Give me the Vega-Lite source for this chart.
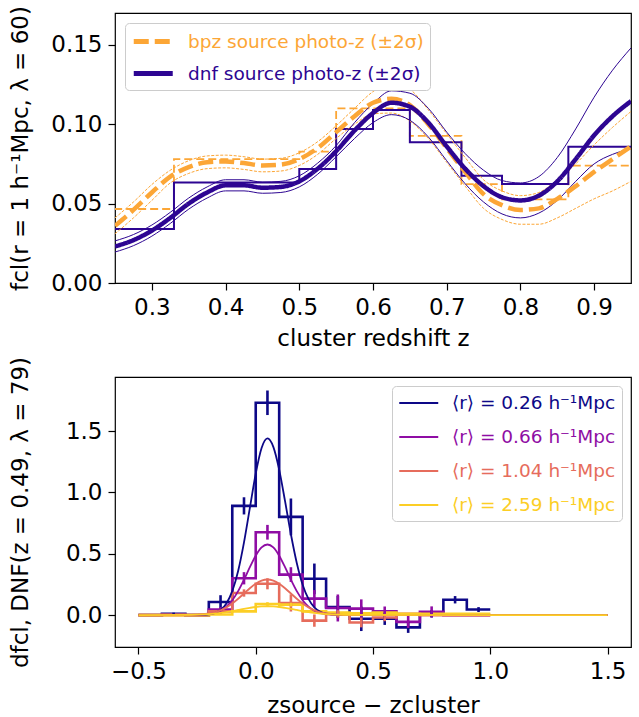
{
  "$schema": "https://vega.github.io/schema/vega-lite/v6.json",
  "background": "white",
  "padding": {"left": 8, "top": 5, "right": 6, "bottom": 5},
  "config": {
    "font": "DejaVu Sans",
    "view": {"stroke": "black", "strokeWidth": 1.2},
    "axis": {"grid": false, "domain": false, "tickColor": "black", "tickWidth": 1.2, "tickSize": 7, "labelFont": "DejaVu Sans", "labelFontSize": 23, "labelColor": "black", "labelPadding": 6, "labelOverlap": false, "labelFlush": false, "labelBound": false, "titleFont": "DejaVu Sans", "titleFontSize": 23, "titleFontWeight": "normal", "titleColor": "black"},
    "legend": {"title": null, "symbolType": "M-1,0H3", "symbolSize": 380, "labelFont": "DejaVu Sans", "labelFontSize": 18.5, "strokeColor": "#cccccc", "fillColor": "white", "cornerRadius": 4, "padding": 6, "labelLimit": 400, "labelOffset": 32}
  },
  "datasets": {
    "top_hist": [
      {"s": "bpz", "x": 0.2, "y": 0.0466}, {"s": "bpz", "x": 0.33, "y": 0.078}, {"s": "bpz", "x": 0.5, "y": 0.0827}, {"s": "bpz", "x": 0.55, "y": 0.110}, {"s": "bpz", "x": 0.6, "y": 0.110}, {"s": "bpz", "x": 0.65, "y": 0.0926}, {"s": "bpz", "x": 0.72, "y": 0.0623}, {"s": "bpz", "x": 0.775, "y": 0.0527}, {"s": "bpz", "x": 0.865, "y": 0.0739}, {"s": "bpz", "x": 1.0, "y": 0.0739},
      {"s": "dnf", "x": 0.2, "y": 0.034}, {"s": "dnf", "x": 0.33, "y": 0.0632}, {"s": "dnf", "x": 0.5, "y": 0.0718}, {"s": "dnf", "x": 0.55, "y": 0.097}, {"s": "dnf", "x": 0.6, "y": 0.109}, {"s": "dnf", "x": 0.65, "y": 0.0886}, {"s": "dnf", "x": 0.72, "y": 0.0676}, {"s": "dnf", "x": 0.775, "y": 0.0623}, {"s": "dnf", "x": 0.865, "y": 0.0858}, {"s": "dnf", "x": 1.0, "y": 0.0858}
    ],
    "top_curve": [
      {"s": "bpz source photo-z (±2σ)", "x": 0.25, "y": 0.036, "lo": 0.031, "hi": 0.041},
      {"s": "bpz source photo-z (±2σ)", "x": 0.275, "y": 0.046, "lo": 0.041, "hi": 0.051},
      {"s": "bpz source photo-z (±2σ)", "x": 0.3, "y": 0.057, "lo": 0.052, "hi": 0.062},
      {"s": "bpz source photo-z (±2σ)", "x": 0.325, "y": 0.067, "lo": 0.063, "hi": 0.071},
      {"s": "bpz source photo-z (±2σ)", "x": 0.35, "y": 0.073, "lo": 0.069, "hi": 0.077},
      {"s": "bpz source photo-z (±2σ)", "x": 0.375, "y": 0.076, "lo": 0.072, "hi": 0.080},
      {"s": "bpz source photo-z (±2σ)", "x": 0.4, "y": 0.0765, "lo": 0.0725, "hi": 0.0805},
      {"s": "bpz source photo-z (±2σ)", "x": 0.425, "y": 0.0755, "lo": 0.0715, "hi": 0.0795},
      {"s": "bpz source photo-z (±2σ)", "x": 0.45, "y": 0.074, "lo": 0.070, "hi": 0.078},
      {"s": "bpz source photo-z (±2σ)", "x": 0.475, "y": 0.0745, "lo": 0.0705, "hi": 0.0785},
      {"s": "bpz source photo-z (±2σ)", "x": 0.5, "y": 0.078, "lo": 0.074, "hi": 0.082},
      {"s": "bpz source photo-z (±2σ)", "x": 0.525, "y": 0.085, "lo": 0.081, "hi": 0.089},
      {"s": "bpz source photo-z (±2σ)", "x": 0.55, "y": 0.095, "lo": 0.091, "hi": 0.099},
      {"s": "bpz source photo-z (±2σ)", "x": 0.575, "y": 0.105, "lo": 0.100, "hi": 0.110},
      {"s": "bpz source photo-z (±2σ)", "x": 0.6, "y": 0.1135, "lo": 0.1065, "hi": 0.1205},
      {"s": "bpz source photo-z (±2σ)", "x": 0.625, "y": 0.116, "lo": 0.107, "hi": 0.126},
      {"s": "bpz source photo-z (±2σ)", "x": 0.65, "y": 0.112, "lo": 0.102, "hi": 0.122},
      {"s": "bpz source photo-z (±2σ)", "x": 0.675, "y": 0.100, "lo": 0.091, "hi": 0.109},
      {"s": "bpz source photo-z (±2σ)", "x": 0.7, "y": 0.085, "lo": 0.076, "hi": 0.094},
      {"s": "bpz source photo-z (±2σ)", "x": 0.725, "y": 0.070, "lo": 0.061, "hi": 0.079},
      {"s": "bpz source photo-z (±2σ)", "x": 0.75, "y": 0.056, "lo": 0.047, "hi": 0.065},
      {"s": "bpz source photo-z (±2σ)", "x": 0.775, "y": 0.049, "lo": 0.040, "hi": 0.058},
      {"s": "bpz source photo-z (±2σ)", "x": 0.8, "y": 0.046, "lo": 0.037, "hi": 0.055},
      {"s": "bpz source photo-z (±2σ)", "x": 0.825, "y": 0.047, "lo": 0.037, "hi": 0.057},
      {"s": "bpz source photo-z (±2σ)", "x": 0.85, "y": 0.053, "lo": 0.041, "hi": 0.065},
      {"s": "bpz source photo-z (±2σ)", "x": 0.875, "y": 0.061, "lo": 0.047, "hi": 0.075},
      {"s": "bpz source photo-z (±2σ)", "x": 0.9, "y": 0.070, "lo": 0.053, "hi": 0.087},
      {"s": "bpz source photo-z (±2σ)", "x": 0.925, "y": 0.078, "lo": 0.058, "hi": 0.098},
      {"s": "bpz source photo-z (±2σ)", "x": 0.95, "y": 0.086, "lo": 0.064, "hi": 0.108},
      {"s": "dnf source photo-z (±2σ)", "x": 0.25, "y": 0.023, "lo": 0.0195, "hi": 0.0265},
      {"s": "dnf source photo-z (±2σ)", "x": 0.275, "y": 0.027, "lo": 0.0235, "hi": 0.0305},
      {"s": "dnf source photo-z (±2σ)", "x": 0.3, "y": 0.033, "lo": 0.0295, "hi": 0.0365},
      {"s": "dnf source photo-z (±2σ)", "x": 0.325, "y": 0.041, "lo": 0.0375, "hi": 0.0445},
      {"s": "dnf source photo-z (±2σ)", "x": 0.35, "y": 0.050, "lo": 0.0465, "hi": 0.0535},
      {"s": "dnf source photo-z (±2σ)", "x": 0.375, "y": 0.057, "lo": 0.0535, "hi": 0.0605},
      {"s": "dnf source photo-z (±2σ)", "x": 0.4, "y": 0.0615, "lo": 0.058, "hi": 0.065},
      {"s": "dnf source photo-z (±2σ)", "x": 0.425, "y": 0.0615, "lo": 0.058, "hi": 0.065},
      {"s": "dnf source photo-z (±2σ)", "x": 0.45, "y": 0.060, "lo": 0.0565, "hi": 0.0635},
      {"s": "dnf source photo-z (±2σ)", "x": 0.475, "y": 0.0605, "lo": 0.057, "hi": 0.064},
      {"s": "dnf source photo-z (±2σ)", "x": 0.5, "y": 0.064, "lo": 0.0605, "hi": 0.0675},
      {"s": "dnf source photo-z (±2σ)", "x": 0.525, "y": 0.072, "lo": 0.0685, "hi": 0.0755},
      {"s": "dnf source photo-z (±2σ)", "x": 0.55, "y": 0.083, "lo": 0.0795, "hi": 0.0865},
      {"s": "dnf source photo-z (±2σ)", "x": 0.575, "y": 0.096, "lo": 0.091, "hi": 0.101},
      {"s": "dnf source photo-z (±2σ)", "x": 0.6, "y": 0.107, "lo": 0.101, "hi": 0.113},
      {"s": "dnf source photo-z (±2σ)", "x": 0.625, "y": 0.1135, "lo": 0.106, "hi": 0.121},
      {"s": "dnf source photo-z (±2σ)", "x": 0.65, "y": 0.111, "lo": 0.1025, "hi": 0.1195},
      {"s": "dnf source photo-z (±2σ)", "x": 0.675, "y": 0.101, "lo": 0.092, "hi": 0.110},
      {"s": "dnf source photo-z (±2σ)", "x": 0.7, "y": 0.086, "lo": 0.077, "hi": 0.095},
      {"s": "dnf source photo-z (±2σ)", "x": 0.725, "y": 0.072, "lo": 0.0625, "hi": 0.0815},
      {"s": "dnf source photo-z (±2σ)", "x": 0.75, "y": 0.061, "lo": 0.051, "hi": 0.071},
      {"s": "dnf source photo-z (±2σ)", "x": 0.775, "y": 0.054, "lo": 0.0435, "hi": 0.0645},
      {"s": "dnf source photo-z (±2σ)", "x": 0.8, "y": 0.052, "lo": 0.041, "hi": 0.063},
      {"s": "dnf source photo-z (±2σ)", "x": 0.825, "y": 0.055, "lo": 0.044, "hi": 0.067},
      {"s": "dnf source photo-z (±2σ)", "x": 0.85, "y": 0.064, "lo": 0.052, "hi": 0.079},
      {"s": "dnf source photo-z (±2σ)", "x": 0.875, "y": 0.078, "lo": 0.064, "hi": 0.097},
      {"s": "dnf source photo-z (±2σ)", "x": 0.9, "y": 0.093, "lo": 0.075, "hi": 0.117},
      {"s": "dnf source photo-z (±2σ)", "x": 0.925, "y": 0.105, "lo": 0.081, "hi": 0.134},
      {"s": "dnf source photo-z (±2σ)", "x": 0.95, "y": 0.1145, "lo": 0.0845, "hi": 0.148}
    ],
    "bot_hist": [
      {"r": "0.26", "x": -0.5, "y": 0}, {"r": "0.26", "x": -0.4, "y": 0.01}, {"r": "0.26", "x": -0.3, "y": 0}, {"r": "0.26", "x": -0.2, "y": 0.107}, {"r": "0.26", "x": -0.1, "y": 0.89}, {"r": "0.26", "x": 0.0, "y": 1.73}, {"r": "0.26", "x": 0.1, "y": 0.80}, {"r": "0.26", "x": 0.2, "y": 0.296}, {"r": "0.26", "x": 0.3, "y": 0.066}, {"r": "0.26", "x": 0.4, "y": -0.03}, {"r": "0.26", "x": 0.5, "y": -0.03}, {"r": "0.26", "x": 0.6, "y": -0.1}, {"r": "0.26", "x": 0.7, "y": 0.01}, {"r": "0.26", "x": 0.8, "y": 0.125}, {"r": "0.26", "x": 0.9, "y": 0.045}, {"r": "0.26", "x": 1.0, "y": 0.045},
      {"r": "0.66", "x": -0.5, "y": 0}, {"r": "0.66", "x": -0.4, "y": 0.005}, {"r": "0.66", "x": -0.3, "y": 0}, {"r": "0.66", "x": -0.2, "y": 0.045}, {"r": "0.66", "x": -0.1, "y": 0.30}, {"r": "0.66", "x": 0.0, "y": 0.675}, {"r": "0.66", "x": 0.1, "y": 0.33}, {"r": "0.66", "x": 0.2, "y": 0.134}, {"r": "0.66", "x": 0.3, "y": 0.058}, {"r": "0.66", "x": 0.4, "y": 0.053}, {"r": "0.66", "x": 0.5, "y": 0.03}, {"r": "0.66", "x": 0.6, "y": -0.055}, {"r": "0.66", "x": 0.7, "y": 0.026}, {"r": "0.66", "x": 0.8, "y": 0.0}, {"r": "0.66", "x": 0.9, "y": 0.0}, {"r": "0.66", "x": 1.0, "y": 0.0},
      {"r": "1.04", "x": -0.5, "y": 0}, {"r": "1.04", "x": -0.4, "y": 0}, {"r": "1.04", "x": -0.3, "y": 0}, {"r": "1.04", "x": -0.2, "y": 0.03}, {"r": "1.04", "x": -0.1, "y": 0.18}, {"r": "1.04", "x": 0.0, "y": 0.255}, {"r": "1.04", "x": 0.1, "y": 0.099}, {"r": "1.04", "x": 0.2, "y": -0.045}, {"r": "1.04", "x": 0.3, "y": 0.01}, {"r": "1.04", "x": 0.4, "y": -0.06}, {"r": "1.04", "x": 0.5, "y": -0.02}, {"r": "1.04", "x": 0.6, "y": 0.01}, {"r": "1.04", "x": 0.7, "y": 0}, {"r": "1.04", "x": 0.8, "y": 0}, {"r": "1.04", "x": 0.9, "y": 0}, {"r": "1.04", "x": 1.0, "y": 0},
      {"r": "2.59", "x": -0.5, "y": 0}, {"r": "2.59", "x": -0.4, "y": 0}, {"r": "2.59", "x": -0.3, "y": 0}, {"r": "2.59", "x": -0.2, "y": 0.005}, {"r": "2.59", "x": -0.1, "y": 0.03}, {"r": "2.59", "x": 0.0, "y": 0.09}, {"r": "2.59", "x": 0.1, "y": 0.085}, {"r": "2.59", "x": 0.2, "y": 0.03}, {"r": "2.59", "x": 0.3, "y": 0.02}, {"r": "2.59", "x": 0.4, "y": 0.015}, {"r": "2.59", "x": 0.5, "y": 0.02}, {"r": "2.59", "x": 0.6, "y": 0.01}, {"r": "2.59", "x": 0.7, "y": 0.01}, {"r": "2.59", "x": 0.8, "y": 0.01}, {"r": "2.59", "x": 0.9, "y": 0.01}, {"r": "2.59", "x": 1.0, "y": 0.01}
    ],
    "bot_err": [
      {"r": "0.26", "x": -0.35, "y": 0.0, "y2": 0.02}, {"r": "0.26", "x": -0.15, "y": 0.052, "y2": 0.162}, {"r": "0.26", "x": -0.05, "y": 0.82, "y2": 0.96}, {"r": "0.26", "x": 0.05, "y": 1.63, "y2": 1.83}, {"r": "0.26", "x": 0.15, "y": 0.65, "y2": 0.95}, {"r": "0.26", "x": 0.25, "y": 0.17, "y2": 0.42}, {"r": "0.26", "x": 0.35, "y": -0.024, "y2": 0.156}, {"r": "0.26", "x": 0.45, "y": -0.13, "y2": 0.07}, {"r": "0.26", "x": 0.55, "y": -0.08, "y2": 0.02}, {"r": "0.26", "x": 0.65, "y": -0.145, "y2": -0.055}, {"r": "0.26", "x": 0.75, "y": -0.02, "y2": 0.04}, {"r": "0.26", "x": 0.85, "y": 0.095, "y2": 0.155}, {"r": "0.26", "x": 0.95, "y": 0.025, "y2": 0.065},
      {"r": "0.66", "x": -0.15, "y": 0.025, "y2": 0.065}, {"r": "0.66", "x": -0.05, "y": 0.25, "y2": 0.35}, {"r": "0.66", "x": 0.05, "y": 0.615, "y2": 0.735}, {"r": "0.66", "x": 0.15, "y": 0.27, "y2": 0.39}, {"r": "0.66", "x": 0.25, "y": 0.064, "y2": 0.204}, {"r": "0.66", "x": 0.35, "y": -0.052, "y2": 0.168}, {"r": "0.66", "x": 0.45, "y": -0.022, "y2": 0.128}, {"r": "0.66", "x": 0.55, "y": -0.01, "y2": 0.07}, {"r": "0.66", "x": 0.65, "y": -0.105, "y2": -0.005}, {"r": "0.66", "x": 0.75, "y": -0.019, "y2": 0.071},
      {"r": "1.04", "x": -0.15, "y": 0.01, "y2": 0.05}, {"r": "1.04", "x": -0.05, "y": 0.15, "y2": 0.21}, {"r": "1.04", "x": 0.05, "y": 0.21, "y2": 0.3}, {"r": "1.04", "x": 0.15, "y": 0.029, "y2": 0.169}, {"r": "1.04", "x": 0.25, "y": -0.095, "y2": 0.005}, {"r": "1.04", "x": 0.35, "y": -0.02, "y2": 0.04}, {"r": "1.04", "x": 0.45, "y": -0.1, "y2": -0.02}, {"r": "1.04", "x": 0.55, "y": -0.05, "y2": 0.01},
      {"r": "2.59", "x": 0.05, "y": 0.075, "y2": 0.105}, {"r": "2.59", "x": 0.15, "y": 0.07, "y2": 0.1}, {"r": "2.59", "x": 0.25, "y": 0.015, "y2": 0.045}
    ],
    "bot_curve": [
      {"r": "0.26", "x": -0.5, "y": 0}, {"r": "0.26", "x": -0.3, "y": 0}, {"r": "0.26", "x": -0.25, "y": 0}, {"r": "0.26", "x": -0.2, "y": 0.006}, {"r": "0.26", "x": -0.175, "y": 0.016}, {"r": "0.26", "x": -0.15, "y": 0.041}, {"r": "0.26", "x": -0.125, "y": 0.095}, {"r": "0.26", "x": -0.1, "y": 0.195}, {"r": "0.26", "x": -0.075, "y": 0.359}, {"r": "0.26", "x": -0.05, "y": 0.592}, {"r": "0.26", "x": -0.025, "y": 0.873}, {"r": "0.26", "x": 0.0, "y": 1.153}, {"r": "0.26", "x": 0.025, "y": 1.362}, {"r": "0.26", "x": 0.05, "y": 1.44}, {"r": "0.26", "x": 0.075, "y": 1.371}, {"r": "0.26", "x": 0.1, "y": 1.185}, {"r": "0.26", "x": 0.125, "y": 0.928}, {"r": "0.26", "x": 0.15, "y": 0.659}, {"r": "0.26", "x": 0.175, "y": 0.425}, {"r": "0.26", "x": 0.2, "y": 0.248}, {"r": "0.26", "x": 0.225, "y": 0.132}, {"r": "0.26", "x": 0.25, "y": 0.063}, {"r": "0.26", "x": 0.3, "y": 0.011}, {"r": "0.26", "x": 0.35, "y": 0.001}, {"r": "0.26", "x": 0.4, "y": 0}, {"r": "0.26", "x": 1.5, "y": 0},
      {"r": "0.66", "x": -0.5, "y": 0}, {"r": "0.66", "x": -0.3, "y": 0}, {"r": "0.66", "x": -0.25, "y": 0.001}, {"r": "0.66", "x": -0.2, "y": 0.0075}, {"r": "0.66", "x": -0.175, "y": 0.017}, {"r": "0.66", "x": -0.15, "y": 0.036}, {"r": "0.66", "x": -0.125, "y": 0.069}, {"r": "0.66", "x": -0.1, "y": 0.121}, {"r": "0.66", "x": -0.075, "y": 0.195}, {"r": "0.66", "x": -0.05, "y": 0.288}, {"r": "0.66", "x": -0.025, "y": 0.390}, {"r": "0.66", "x": 0.0, "y": 0.484}, {"r": "0.66", "x": 0.025, "y": 0.551}, {"r": "0.66", "x": 0.05, "y": 0.575}, {"r": "0.66", "x": 0.075, "y": 0.551}, {"r": "0.66", "x": 0.1, "y": 0.484}, {"r": "0.66", "x": 0.125, "y": 0.390}, {"r": "0.66", "x": 0.15, "y": 0.288}, {"r": "0.66", "x": 0.175, "y": 0.195}, {"r": "0.66", "x": 0.2, "y": 0.121}, {"r": "0.66", "x": 0.225, "y": 0.069}, {"r": "0.66", "x": 0.25, "y": 0.036}, {"r": "0.66", "x": 0.3, "y": 0.0075}, {"r": "0.66", "x": 0.35, "y": 0.001}, {"r": "0.66", "x": 0.4, "y": 0}, {"r": "0.66", "x": 1.5, "y": 0},
      {"r": "1.04", "x": -0.5, "y": 0}, {"r": "1.04", "x": -0.3, "y": 0}, {"r": "1.04", "x": -0.25, "y": 0.003}, {"r": "1.04", "x": -0.2, "y": 0.013}, {"r": "1.04", "x": -0.175, "y": 0.023}, {"r": "1.04", "x": -0.15, "y": 0.039}, {"r": "1.04", "x": -0.125, "y": 0.063}, {"r": "1.04", "x": -0.1, "y": 0.094}, {"r": "1.04", "x": -0.075, "y": 0.133}, {"r": "1.04", "x": -0.05, "y": 0.176}, {"r": "1.04", "x": -0.025, "y": 0.219}, {"r": "1.04", "x": 0.0, "y": 0.256}, {"r": "1.04", "x": 0.025, "y": 0.281}, {"r": "1.04", "x": 0.05, "y": 0.29}, {"r": "1.04", "x": 0.075, "y": 0.281}, {"r": "1.04", "x": 0.1, "y": 0.256}, {"r": "1.04", "x": 0.125, "y": 0.219}, {"r": "1.04", "x": 0.15, "y": 0.176}, {"r": "1.04", "x": 0.175, "y": 0.133}, {"r": "1.04", "x": 0.2, "y": 0.094}, {"r": "1.04", "x": 0.225, "y": 0.063}, {"r": "1.04", "x": 0.25, "y": 0.039}, {"r": "1.04", "x": 0.3, "y": 0.013}, {"r": "1.04", "x": 0.35, "y": 0.003}, {"r": "1.04", "x": 0.4, "y": 0}, {"r": "1.04", "x": 1.5, "y": 0},
      {"r": "2.59", "x": -0.5, "y": 0}, {"r": "2.59", "x": -0.3, "y": 0.001}, {"r": "2.59", "x": -0.25, "y": 0.003}, {"r": "2.59", "x": -0.2, "y": 0.008}, {"r": "2.59", "x": -0.175, "y": 0.012}, {"r": "2.59", "x": -0.15, "y": 0.018}, {"r": "2.59", "x": -0.125, "y": 0.025}, {"r": "2.59", "x": -0.1, "y": 0.033}, {"r": "2.59", "x": -0.075, "y": 0.042}, {"r": "2.59", "x": -0.05, "y": 0.051}, {"r": "2.59", "x": -0.025, "y": 0.059}, {"r": "2.59", "x": 0.0, "y": 0.066}, {"r": "2.59", "x": 0.025, "y": 0.0705}, {"r": "2.59", "x": 0.05, "y": 0.072}, {"r": "2.59", "x": 0.075, "y": 0.0705}, {"r": "2.59", "x": 0.1, "y": 0.066}, {"r": "2.59", "x": 0.125, "y": 0.059}, {"r": "2.59", "x": 0.15, "y": 0.051}, {"r": "2.59", "x": 0.175, "y": 0.042}, {"r": "2.59", "x": 0.2, "y": 0.033}, {"r": "2.59", "x": 0.225, "y": 0.025}, {"r": "2.59", "x": 0.25, "y": 0.018}, {"r": "2.59", "x": 0.3, "y": 0.008}, {"r": "2.59", "x": 0.35, "y": 0.003}, {"r": "2.59", "x": 0.4, "y": 0.001}, {"r": "2.59", "x": 1.5, "y": 0}
    ]
  },
  "bounds": "flush",
  "spacing": 94,
  "resolve": {"scale": {"color": "independent", "strokeDash": "independent"}},
  "vconcat": [
    {
      "width": 516,
      "height": 270,
      "encoding": {
        "x": {"field": "x", "type": "quantitative", "scale": {"domain": [0.25, 0.95], "nice": false, "zero": false}, "axis": {"values": [0.3, 0.4, 0.5, 0.6, 0.7, 0.8, 0.9], "format": ".1f", "titlePadding": 8}, "title": "cluster redshift z"},
        "y": {"field": "y", "type": "quantitative", "scale": {"domain": [0, 0.17], "nice": false, "zero": false}, "axis": {"values": [0, 0.05, 0.1, 0.15], "format": ".2f", "titleX": -83, "titleY": 135, "titleAngle": -90, "titleAlign": "center", "titleBaseline": "bottom"}, "title": "fcl(r = 1 h⁻¹Mpc, λ = 60)"}
      },
      "layer": [
        {"data": {"name": "top_hist"}, "transform": [{"filter": "datum.s == 'bpz'"}], "mark": {"type": "line", "interpolate": "step-after", "clip": true, "color": "#fca636", "strokeWidth": 1.8, "strokeDash": [8, 4]}},
        {"data": {"name": "top_hist"}, "transform": [{"filter": "datum.s == 'dnf'"}], "mark": {"type": "line", "interpolate": "step-after", "clip": true, "color": "#2d0592", "strokeWidth": 2}},
        {"data": {"name": "top_curve"}, "transform": [{"filter": "indexof(datum.s, 'bpz') == 0"}, {"fold": ["lo", "hi"], "as": ["k", "y"]}], "mark": {"type": "line", "interpolate": "monotone", "clip": true, "color": "#fca636", "strokeWidth": 1, "strokeDash": [3, 1.5]}, "encoding": {"detail": {"field": "k"}}},
        {"data": {"name": "top_curve"}, "transform": [{"filter": "indexof(datum.s, 'dnf') == 0"}, {"fold": ["lo", "hi"], "as": ["k", "y"]}], "mark": {"type": "line", "interpolate": "monotone", "clip": true, "color": "#2d0592", "strokeWidth": 1}, "encoding": {"detail": {"field": "k"}}},
        {"data": {"name": "top_curve"}, "mark": {"type": "line", "interpolate": "monotone", "clip": true, "strokeWidth": 4.5},
         "encoding": {
           "color": {"field": "s", "type": "nominal", "scale": {"domain": ["bpz source photo-z (±2σ)", "dnf source photo-z (±2σ)"], "range": ["#fca636", "#2d0592"]},
             "legend": {"orient": "top-left", "offset": 10, "symbolStrokeWidth": 5, "rowPadding": 9, "labelColor": {"expr": "indexof(datum.label, 'bpz') == 0 ? '#fca636' : '#2d0592'"}}},
           "strokeDash": {"field": "s", "type": "nominal", "scale": {"domain": ["bpz source photo-z (±2σ)", "dnf source photo-z (±2σ)"], "range": [[15, 6], [1, 0]]}}
         }}
      ]
    },
    {
      "width": 516,
      "height": 270,
      "encoding": {
        "x": {"field": "x", "type": "quantitative", "scale": {"domain": [-0.6, 1.6], "nice": false, "zero": false}, "axis": {"values": [-0.5, 0, 0.5, 1, 1.5], "format": ".1f", "titlePadding": 11}, "title": "zsource − zcluster"},
        "y": {"field": "y", "type": "quantitative", "scale": {"domain": [-0.26, 1.94], "nice": false, "zero": false}, "axis": {"values": [0, 0.5, 1, 1.5], "format": ".1f", "titleX": -83, "titleY": 135, "titleAngle": -90, "titleAlign": "center", "titleBaseline": "bottom"}, "title": "dfcl, DNF(z = 0.49, λ = 79)"},
        "color": {"field": "r", "type": "nominal", "scale": {"domain": ["0.26", "0.66", "1.04", "2.59"], "range": ["#0d0887", "#8f0da4", "#e66c5c", "#fcce25"]},
          "legend": {"orient": "top-right", "offset": 9, "symbolStrokeWidth": 2, "rowPadding": 13, "labelExpr": "'⟨r⟩ = ' + datum.label + ' h⁻¹Mpc'", "labelColor": {"expr": "datum.label == '0.26' ? '#0d0887' : datum.label == '0.66' ? '#8f0da4' : datum.label == '1.04' ? '#e66c5c' : '#fcce25'"}}}
      },
      "layer": [
        {"data": {"name": "bot_hist"}, "mark": {"type": "line", "interpolate": "step-after", "clip": true, "strokeWidth": 2.6}},
        {"data": {"name": "bot_err"}, "mark": {"type": "rule", "clip": true, "strokeWidth": 2.6}, "encoding": {"y2": {"field": "y2"}}},
        {"data": {"name": "bot_curve"}, "mark": {"type": "line", "interpolate": "monotone", "clip": true, "strokeWidth": 1.8}}
      ]
    }
  ]
}
